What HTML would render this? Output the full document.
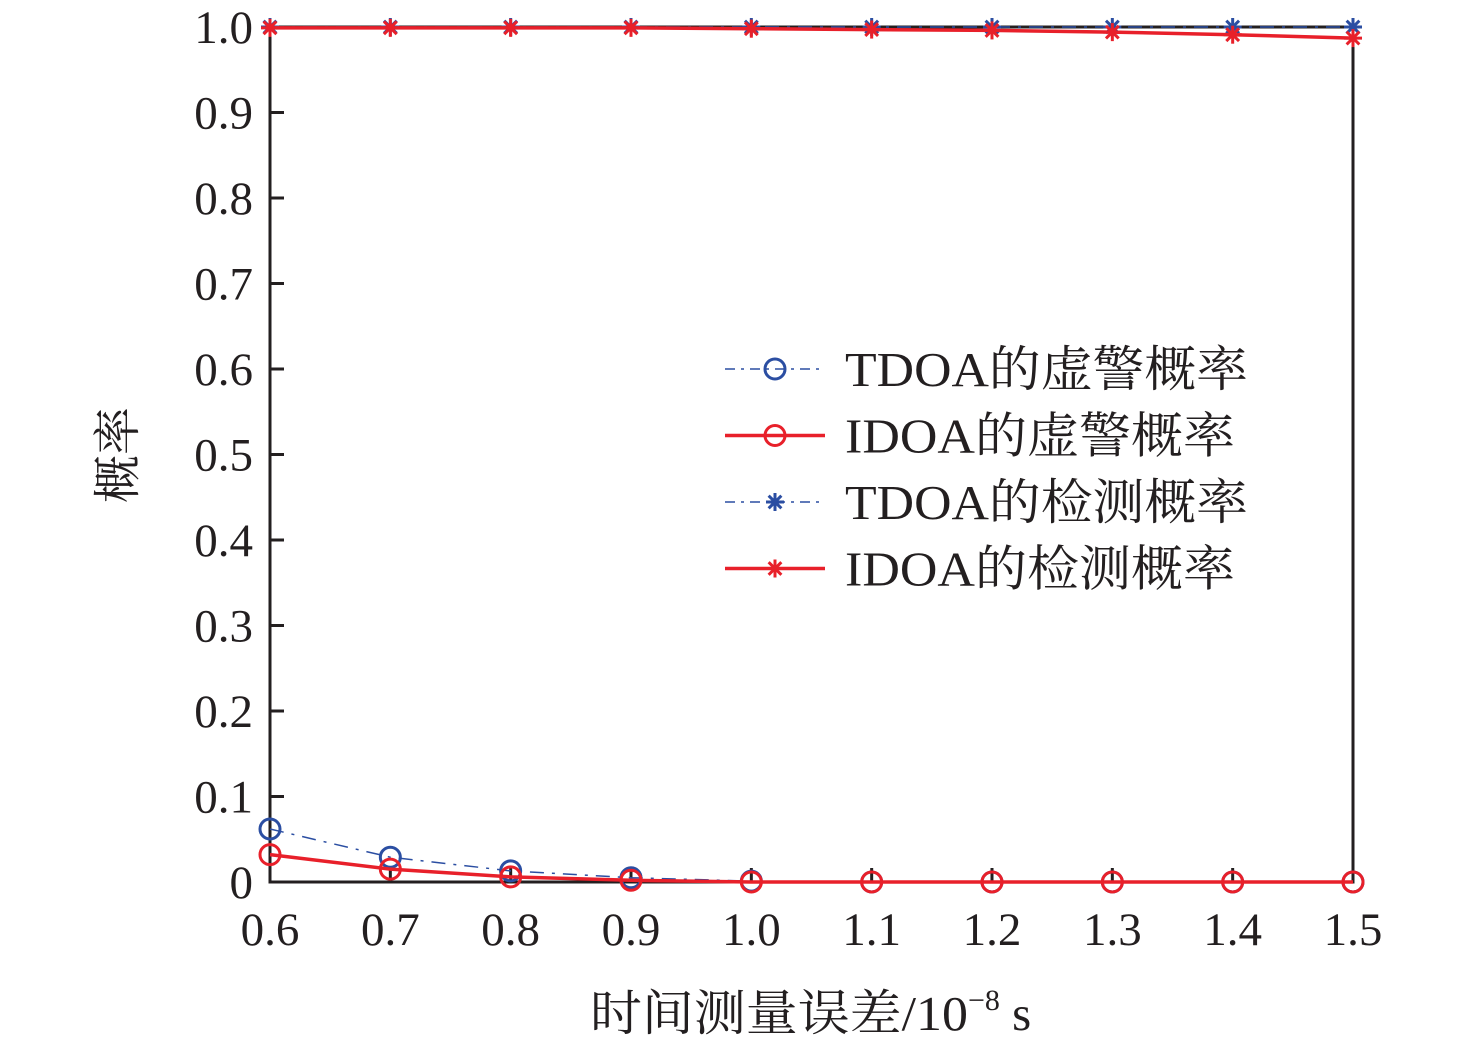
<!DOCTYPE html>
<html><head><meta charset="utf-8"><style>
body{margin:0;background:#fff}
svg{display:block}
text{font-family:"Liberation Serif","Noto Serif CJK SC",serif;fill:#231f20}
</style></head><body>
<svg id="c" width="1476" height="1049"></svg>
<script>
const xCats=[0.6,0.7,0.8,0.9,1.0,1.1,1.2,1.3,1.4,1.5];
const xLabels=["0.6","0.7","0.8","0.9","1.0","1.1","1.2","1.3","1.4","1.5"];
const yTicks=[0,0.1,0.2,0.3,0.4,0.5,0.6,0.7,0.8,0.9,1.0];
const yLabels=["0","0.1","0.2","0.3","0.4","0.5","0.6","0.7","0.8","0.9","1.0"];
const tdoaFalse=[0.062,0.029,0.013,0.005,0.001,0,0,0,0,0];
const idoaFalse=[0.032,0.015,0.006,0.002,0,0,0,0,0,0];
const tdoaDetect=[1,1,1,1,1,1,1,1,1,1];
const idoaDetect=[0.999,0.999,0.999,0.999,0.998,0.997,0.996,0.994,0.991,0.987];

const NS="http://www.w3.org/2000/svg";
const svg=document.getElementById('c');
const X0=270,X1=1353,Y0=882,Y1=27;
const FF='"Liberation Serif","Noto Serif CJK SC",serif';
const xs=v=>X0+(v-0.6)/0.9*(X1-X0);
const ys=v=>Y0-v*(Y0-Y1);
function el(t,a,p){const e=document.createElementNS(NS,t);for(const k in a)e.setAttribute(k,a[k]);(p||svg).appendChild(e);return e;}

let e=el('rect',{x:X0,y:Y1,width:X1-X0,height:Y0-Y1,fill:'none',stroke:'#231f20','stroke-width':3});


yTicks.forEach((v,i)=>{
  let t=el('line',{x1:X0,x2:X0+14,y1:ys(v),y2:ys(v),stroke:'#231f20','stroke-width':3});
  
  
  let l=el('text',{x:253,y:ys(v)+16,'font-size':47,'text-anchor':'end','font-family':FF});l.textContent=yLabels[i];
  
  
});
xCats.forEach((v,i)=>{
  let t=el('line',{x1:xs(v),x2:xs(v),y1:Y0,y2:Y0-14,stroke:'#231f20','stroke-width':3});
  
  
  let l=el('text',{x:xs(v),y:945,'font-size':47,'text-anchor':'middle','font-family':FF});l.textContent=xLabels[i];
  
  
});
let xt=el('text',{x:590,y:1030,'font-size':49,'font-family':FF});
xt.innerHTML='<tspan textLength="378" lengthAdjust="spacingAndGlyphs">时间测量误差/10</tspan><tspan dy="-20" font-size="30">−8</tspan><tspan dy="20"> s</tspan>';


let yt=el('text',{x:0,y:0,'font-size':48,'text-anchor':'middle','font-family':FF,transform:'translate(134,455) rotate(-90)'});
yt.textContent='概率';



const BLUE='#2b4ea2',RED='#e8202a';
function circle(x,y,c,g){const m=el('circle',{cx:x,cy:y,r:10,fill:'none',stroke:c,'stroke-width':3},g);}
function star(x,y,c,g){const s=el('g',{},g);
  for(let a=0;a<180;a+=45){const r=a*Math.PI/180;el('line',{x1:x-9*Math.cos(r),y1:y-9*Math.sin(r),x2:x+9*Math.cos(r),y2:y+9*Math.sin(r),stroke:c,'stroke-width':3},s);}}
function series(name,vals,c,dash,mk,w){
  const g=el('g',{});
  el('polyline',{points:vals.map((v,i)=>xs(xCats[i])+','+ys(v)).join(' '),fill:'none',stroke:c,'stroke-width':w,'stroke-dasharray':dash||'none'},g);
  vals.forEach((v,i)=>mk(xs(xCats[i]),ys(v),c,g));
}
series('tdoa-false-series',tdoaFalse,BLUE,'14,8,3,8',circle,1.5);
series('tdoa-detect-series',tdoaDetect,BLUE,'14,8,3,8',star,1.5);
series('idoa-false-series',idoaFalse,RED,null,circle,3.5);
series('idoa-detect-series',idoaDetect,RED,null,star,3.5);

const leg=[["TDOA的虚警概率",BLUE,'10,6,3,6',circle,1.5,403],["IDOA的虚警概率",RED,null,circle,3.5,390],["TDOA的检测概率",BLUE,'10,6,3,6',star,1.5,403],["IDOA的检测概率",RED,null,star,3.5,390]];
leg.forEach((L,i)=>{
  const y=369+i*66.5;
  const g=el('g',{});
  el('line',{x1:725,x2:825,y1:y,y2:y,stroke:L[1],'stroke-width':L[4],'stroke-dasharray':L[2]||'none'},g);
  L[3](775,y,L[1],g);
  const t=el('text',{x:845,y:y+17,'font-size':49,'font-family':FF,textLength:L[5],lengthAdjust:'spacingAndGlyphs'},g);t.textContent=L[0];
});
</script>
</body></html>
